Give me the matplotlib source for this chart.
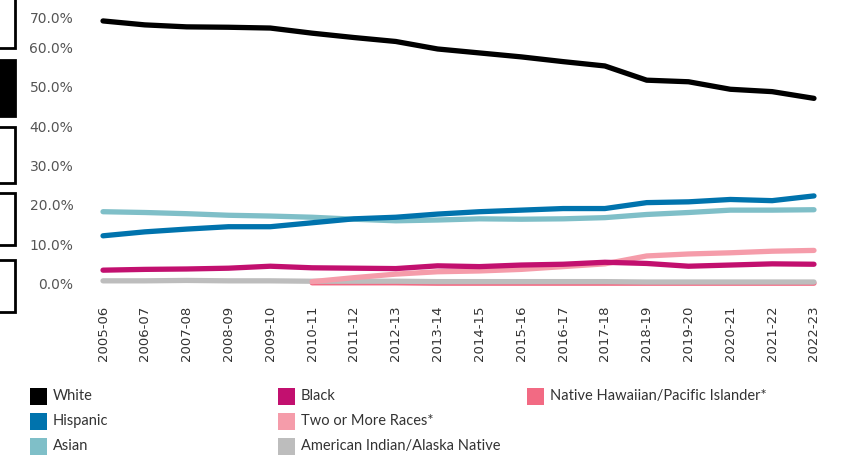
import matplotlib
matplotlib.use("Agg")
import matplotlib.pyplot as plt
import matplotlib.transforms as mtransforms
from matplotlib.patches import Rectangle
import numpy as np

plt.rcParams["font.family"] = ["Lato", "DejaVu Sans"]

years = ["2005-06", "2006-07", "2007-08", "2008-09", "2009-10", "2010-11",
         "2011-12", "2012-13", "2013-14", "2014-15", "2015-16", "2016-17",
         "2017-18", "2018-19", "2019-20", "2020-21", "2021-22", "2022-23"]

white = [66.6, 65.6, 65.1, 65.0, 64.8, 63.5, 62.4, 61.4, 59.5, 58.5, 57.5, 56.3,
         55.2, 51.6, 51.2, 49.3, 48.7, 47.0]
hispanic = [12.2, 13.2, 13.9, 14.5, 14.5, 15.5, 16.5, 16.9, 17.7, 18.3, 18.7, 19.1,
            19.1, 20.6, 20.8, 21.4, 21.1, 22.3]
asian = [18.3, 18.1, 17.8, 17.4, 17.2, 16.9, 16.4, 16.0, 16.2, 16.5, 16.4, 16.5,
         16.8, 17.6, 18.1, 18.7, 18.7, 18.8]
black = [3.5, 3.7, 3.8, 4.0, 4.5, 4.1, 4.0, 3.9, 4.6, 4.4, 4.8, 5.0,
         5.5, 5.2, 4.5, 4.8, 5.1, 5.0]
two_more = [None] * 5 + [0.6, 1.6, 2.5, 3.1, 3.3, 3.7, 4.4, 5.1, 7.1, 7.6, 7.9, 8.3, 8.5]
nhpi = [None] * 5 + [0.3, 0.3, 0.3, 0.2, 0.2, 0.2, 0.2, 0.2, 0.2, 0.2, 0.2, 0.2, 0.2]
aian = [0.8, 0.8, 0.9, 0.8, 0.8, 0.7, 0.7, 0.7, 0.6, 0.6, 0.6, 0.6,
        0.6, 0.5, 0.5, 0.5, 0.5, 0.5]

colors = {
    "White": "#000000",
    "Hispanic": "#0073AD",
    "Asian": "#7FBFC8",
    "Black": "#C2106F",
    "Two or More Races*": "#F59CAA",
    "American Indian/Alaska Native": "#BDBDBD",
    "Native Hawaiian/Pacific Islander*": "#F26A83",
}

W, H = 843, 458
fig = plt.figure(figsize=(W / 100, H / 100), dpi=100)
ax = fig.add_axes([90 / W, 1 - 293 / H, (830 - 90) / W, 293 / H])

x = np.arange(len(years))

def to_arr(v):
    return np.array([np.nan if a is None else a for a in v], dtype=float)

lw = 3.8
series = [
    ("Native Hawaiian/Pacific Islander*", nhpi),
    ("American Indian/Alaska Native", aian),
    ("Two or More Races*", two_more),
    ("Black", black),
    ("Asian", asian),
    ("Hispanic", hispanic),
    ("White", white),
]
for name, vals in series:
    ax.plot(x, to_arr(vals), color=colors[name], lw=lw,
            solid_capstyle="round", solid_joinstyle="round")

ax.set_xlim(-0.311, 17.383)
ax.set_ylim(-2.28, 71.9)
ax.set_yticks(np.arange(0, 71, 10))
ax.set_yticklabels([f"{v:.1f}%" for v in np.arange(0, 71, 10)],
                   family="DejaVu Sans", fontsize=10)
ax.set_xticks(x)
ax.set_xticklabels(years, rotation=90, family="DejaVu Sans", fontsize=9.5)
ax.tick_params(axis="y", length=0, pad=12, labelcolor="#555555")
ax.tick_params(axis="x", length=0, pad=9, labelcolor="#333333")
for s in ax.spines.values():
    s.set_visible(False)

# the top tick label sits a bit lower, inside the frame
top_lab = ax.get_yticklabels()[-1]
top_lab.set_transform(top_lab.get_transform() +
                      mtransforms.ScaledTranslation(0, -9.5 / 100, fig.dpi_scale_trans))

# cropped boxes along the left edge
boxes = [(-5, 48, False), (60, 116, True), (127, 183, False), (193, 245, False), (260, 312, False)]
for y0, y1, filled in boxes:
    fig.patches.append(Rectangle((-5 / W, 1 - y1 / H), 20 / W, (y1 - y0) / H,
                                 transform=fig.transFigure, lw=2,
                                 edgecolor="black",
                                 facecolor="black" if filled else "none"))

# legend
legend_cols = [
    (30, ["White", "Hispanic", "Asian"]),
    (278, ["Black", "Two or More Races*", "American Indian/Alaska Native"]),
    (527, ["Native Hawaiian/Pacific Islander*"]),
]
rows = [396, 421, 446]
for cx, names in legend_cols:
    for name, ry in zip(names, rows):
        fig.patches.append(Rectangle((cx / W, 1 - (ry + 8.5) / H), 17 / W, 17 / H,
                                     transform=fig.transFigure,
                                     facecolor=colors[name], edgecolor="none"))
        fig.text((cx + 23) / W, 1 - ry / H, name, fontsize=10.5,
                 color="#333333", va="center", ha="left")

fig.savefig("out.png", dpi=100)
